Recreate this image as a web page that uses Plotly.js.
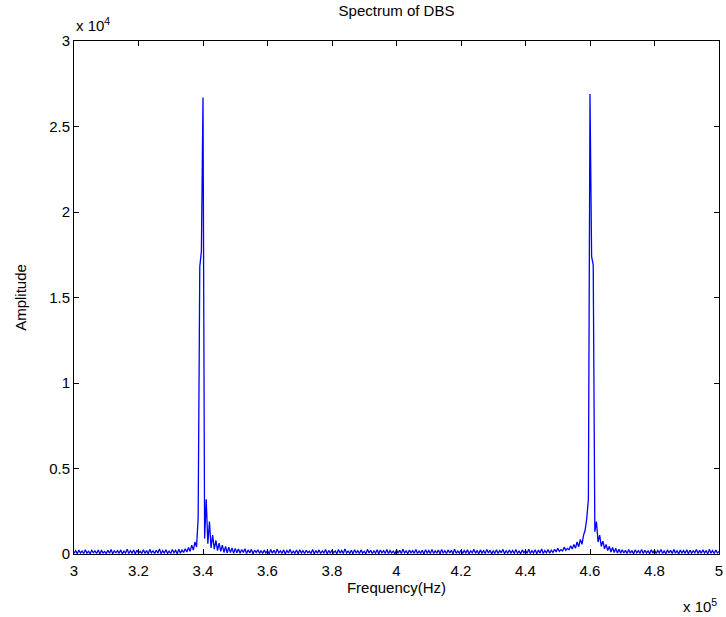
<!DOCTYPE html>
<html>
<head>
<meta charset="utf-8">
<script src="https://cdn.plot.ly/plotly-3.0.1.min.js"></script>
<style>html,body{margin:0;padding:0;background:#fff;}#chart{width:726px;height:617px;}</style>
</head>
<body>
<div id="chart"></div>
<script>
// Frequency grid (Hz)
const freqStart = 300000;
const freqStep = 500;

// Spectrum amplitude samples
const amplitude = [
40,190,20,230,60,170,30,250,50,160,20,210,70,180,30,240,10,200,60,150,
30,220,50,260,20,180,70,200,40,240,10,170,60,280,30,190,50,230,20,210,
60,160,30,250,40,200,20,270,70,180,30,220,50,300,20,190,60,240,40,170,
30,260,70,210,20,280,50,230,90,310,
120,380,150,520,230,700,400,2100,16800,17700,26700,900,3200,600,1900,350,1100,280,800,200,640,150,520,90,450,60,400,80,350,40,
330,70,290,40,260,90,310,30,240,60,270,20,220,80,250,40,200,30,230,60,
190,20,260,50,210,30,280,70,180,40,240,10,200,60,270,30,170,50,230,20,
250,60,190,30,220,70,160,40,270,20,200,50,240,30,180,60,260,10,210,40,
230,70,180,20,260,50,200,30,290,60,170,40,220,20,250,70,190,30,240,50,
160,20,270,60,210,30,180,50,250,10,230,70,190,40,260,30,200,60,170,20,
240,50,210,30,280,60,180,20,230,70,190,40,260,30,170,50,220,10,250,60,
200,30,270,40,180,70,230,20,260,50,190,30,240,60,210,20,280,40,170,50,
230,30,200,60,250,20,180,70,270,40,210,10,240,50,190,30,260,60,220,20,
180,50,250,30,210,70,270,20,190,40,230,60,200,30,260,50,170,20,240,70,
210,40,280,30,190,60,250,20,230,50,300,30,200,70,260,40,220,90,280,120,
340,150,260,180,400,210,330,250,480,290,560,340,700,420,850,560,1100,1400,2100,3200,
26900,17400,16900,1300,1900,700,1100,450,750,300,560,200,450,120,380,90,330,60,280,40,
250,60,220,30,260,50,200,20,240,70,190,40,270,30,210,60,180,20,250,50,
230,30,200,70,260,40,180,20,240,60,210,30,270,50,190,10,230,60,200,40,
250,20,220,50,180,70,260,30,210,40,240,60,190,20,270,50,200,30,230,60,
150
];

// Tick values and labels
const xTickVals = [300000,320000,340000,360000,380000,400000,420000,440000,460000,480000,500000];
const xTickText = ["3","3.2","3.4","3.6","3.8","4","4.2","4.4","4.6","4.8","5"];
const yTickVals = [0,5000,10000,15000,20000,25000,30000];
const yTickText = ["0","0.5","1","1.5","2","2.5","3"];

const FONT = "Liberation Sans, Arial, Helvetica, sans-serif";
const FS = 15;

const trace = {
  type: "scatter",
  mode: "lines",
  x0: freqStart,
  dx: freqStep,
  y: amplitude,
  line: {color: "#0000ff", width: 1.3},
  hoverinfo: "skip"
};

const axisCommon = {
  showgrid: false,
  zeroline: false,
  showline: true,
  linecolor: "#000",
  linewidth: 1,
  mirror: "ticks",
  ticks: "inside",
  ticklen: 5,
  tickcolor: "#000",
  tickfont: {family: FONT, size: FS, color: "#000"},
  tickmode: "array"
};

const layout = {
  width: 726,
  height: 617,
  margin: {l: 74, r: 7, t: 41, b: 63},
  paper_bgcolor: "#fff",
  plot_bgcolor: "#fff",
  showlegend: false,
  font: {family: FONT, color: "#000"},
  title: {
    text: "Spectrum of DBS",
    font: {family: FONT, size: FS, color: "#000"},
    xref: "paper", x: 0.5, xanchor: "center",
    yref: "container", y: 1 - 11/617, yanchor: "middle"
  },
  xaxis: Object.assign({}, axisCommon, {
    range: [300000, 500000],
    tickvals: xTickVals,
    ticktext: xTickText,
    ticklabelstandoff: 3,
    title: {text: "Frequency(Hz)", font: {family: FONT, size: FS, color: "#000"}, standoff: 4}
  }),
  yaxis: Object.assign({}, axisCommon, {
    range: [0, 30000],
    tickvals: yTickVals,
    ticktext: yTickText,
    title: {text: "Amplitude", font: {family: FONT, size: FS, color: "#000"}, standoff: 18}
  }),
  annotations: [
    {text: "x 10<sup>5</sup>", xref: "paper", yref: "paper", x: 1.0, y: -0.10,
     xanchor: "right", yanchor: "middle", showarrow: false,
     font: {family: FONT, size: FS, color: "#000"}},
    {text: "x 10<sup>4</sup>", xref: "paper", yref: "paper", x: 0.0, y: 1.01,
     xanchor: "left", yanchor: "bottom", showarrow: false,
     font: {family: FONT, size: FS, color: "#000"}}
  ]
};

Plotly.newPlot("chart", [trace], layout, {displayModeBar: false, staticPlot: true});
</script>
</body>
</html>
